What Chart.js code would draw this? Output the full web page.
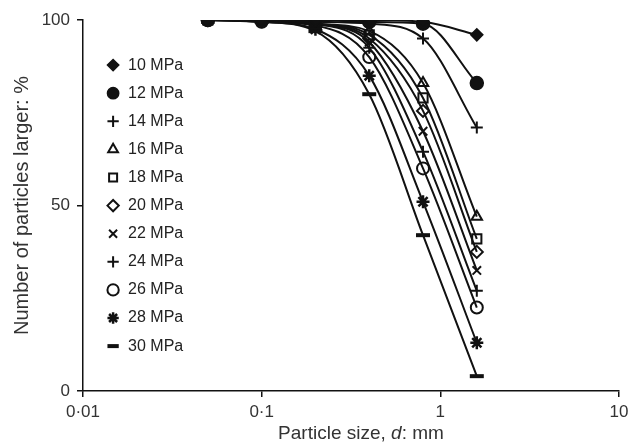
<!DOCTYPE html>
<html><head><meta charset="utf-8">
<script src="https://cdn.jsdelivr.net/npm/chart.js@4/dist/chart.umd.min.js"></script>
<style>html,body{margin:0;padding:0;background:#fff;}</style>
</head><body>
<canvas id="c" width="636" height="443"></canvas>
<script>
// ---- data ----
const particleSizes = [0.05, 0.1, 0.2, 0.4, 0.8, 1.6];
const seriesLabels = ['10 MPa','12 MPa','14 MPa','16 MPa','18 MPa','20 MPa','22 MPa','24 MPa','26 MPa','28 MPa','30 MPa'];
const mpa10 = [100, 100, 100, 100, 99.5, 96];
const mpa12 = [100, 100, 100, 99.5, 99, 83];
const mpa14 = [100, 100, 99.5, 99, 95, 71];
const mpa16 = [100, 100, 99, 97, 83, 47];
const mpa18 = [100, 100, 99, 96, 79, 41];
const mpa20 = [100, 100, 99, 95, 75.5, 37.5];
const mpa22 = [100, 100, 99, 94, 70, 32.5];
const mpa24 = [100, 100, 99, 92.5, 64.5, 27];
const mpa26 = [100, 99.5, 98.5, 90, 60, 22.5];
const mpa28 = [100, 99.5, 97.5, 85, 51, 13];
const mpa30 = [100, 99.5, 97, 80, 42, 4];
const seriesValues = [mpa10, mpa12, mpa14, mpa16, mpa18, mpa20, mpa22, mpa24, mpa26, mpa28, mpa30];
const xTickValues = [0.01, 0.1, 1, 10];
const xTickLabels = ['0·01', '0·1', '1', '10'];
const yTickValues = [0, 50, 100];

// ---- styles ----
const markerStyles = ['rectRot','circle','cross','triangle','rect','rectRot','crossRot','cross','circle','star','line'];
const markerFilled = [true, true, false, false, false, false, false, false, false, false, false];
const markerRadius = [6, 6.5, 6, 6, 6.5, 6, 6, 6, 6, 6.5, 7];
const markerWidth = [1.5, 1.5, 2, 2, 2, 2, 2, 2, 2, 2.5, 4];

const datasets = seriesLabels.map((lab, i) => ({
  label: lab,
  data: particleSizes.map((x, j) => ({x: x, y: seriesValues[i][j]})),
  borderColor: '#111',
  borderWidth: 2,
  backgroundColor: markerFilled[i] ? '#111' : 'rgba(255,255,255,0)',
  pointStyle: markerStyles[i],
  pointRadius: markerRadius[i],
  pointBorderWidth: markerWidth[i],
  pointBorderColor: '#111',
  pointBackgroundColor: markerFilled[i] ? '#111' : 'rgba(255,255,255,0)',
  cubicInterpolationMode: 'monotone',
  fill: false
}));

const legendShift = {
  id: 'legendShift',
  beforeDraw(chart) {
    const l = chart.legend;
    if (l) {
      l.left = chart.chartArea.left + 11;
      l.top = chart.chartArea.top + 25;
    }
  }
};

const FONT = '"Liberation Sans", Arial, sans-serif';

const xTitle = {
  id: 'xTitle',
  afterDraw(chart) {
    const ctx = chart.ctx;
    const parts = [
      {t: 'Particle size, ', f: '19px ' + FONT},
      {t: 'd', f: 'italic 19px ' + FONT},
      {t: ': mm', f: '19px ' + FONT}
    ];
    ctx.save();
    let total = 0;
    parts.forEach(p => { ctx.font = p.f; p.w = ctx.measureText(p.t).width; total += p.w; });
    const cx = (chart.chartArea.left + chart.chartArea.right) / 2 + 10;
    let x = cx - total / 2;
    ctx.fillStyle = '#333';
    ctx.textBaseline = 'middle';
    ctx.textAlign = 'left';
    parts.forEach(p => { ctx.font = p.f; ctx.fillText(p.t, x, 434); x += p.w; });
    ctx.restore();
  }
};

const tickFont = {family: FONT, size: 17};

new Chart(document.getElementById('c'), {
  type: 'line',
  data: {datasets: datasets},
  plugins: [legendShift, xTitle],
  options: {
    responsive: false,
    devicePixelRatio: 1,
    animation: false,
    layout: {padding: {top: 20, right: 17, left: 0, bottom: 0}},
    plugins: {
      tooltip: {enabled: false},
      legend: {
        position: 'chartArea',
        align: 'start',
        labels: {
          usePointStyle: true,
          boxWidth: 14,
          boxHeight: 8,
          padding: 12.1,
          color: '#222',
          font: {family: FONT, size: 16}
        }
      }
    },
    scales: {
      x: {
        type: 'logarithmic',
        min: 0.01,
        max: 10,
        afterBuildTicks: s => { s.ticks = xTickValues.map(v => ({value: v})); },
        afterFit: s => { s.height = 52; },
        ticks: {
          autoSkip: false,
          maxRotation: 0,
          padding: 5,
          color: '#333',
          font: tickFont,
          callback: function (v) {
            let best = 0;
            xTickValues.forEach((t, k) => { if (Math.abs(Math.log10(t) - Math.log10(v)) < 1e-6) best = k; });
            return xTickLabels[best];
          }
        },
        grid: {drawOnChartArea: false, drawTicks: true, tickLength: 6, color: '#111', lineWidth: 1.5},
        border: {color: '#111', width: 1.5}
      },
      y: {
        min: 0,
        max: 100,
        afterBuildTicks: s => { s.ticks = yTickValues.map(v => ({value: v})); },
        afterFit: s => { s.width = 83; },
        ticks: {padding: 7, color: '#333', font: tickFont},
        grid: {drawOnChartArea: false, drawTicks: true, tickLength: 6, color: '#111', lineWidth: 1.5},
        border: {color: '#111', width: 1.5},
        title: {
          display: true,
          text: 'Number of particles larger: %',
          color: '#333',
          font: {family: FONT, size: 20},
          padding: {top: 10, bottom: 0}
        }
      }
    }
  }
});
</script>
</body></html>
